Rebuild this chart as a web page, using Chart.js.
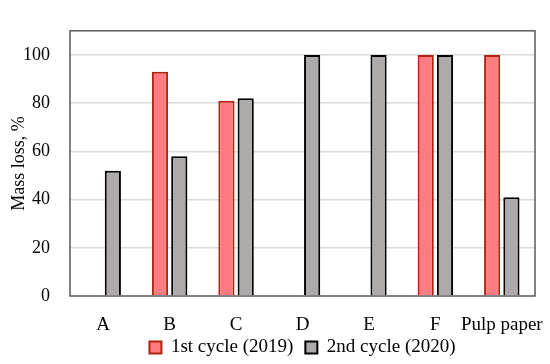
<!DOCTYPE html>
<html>
<head>
<meta charset="utf-8">
<script src="https://cdn.jsdelivr.net/npm/chart.js@4/dist/chart.umd.min.js"></script>
<style>
  html, body { margin: 0; padding: 0; background: #fff; }
  #wrap { width: 550px; height: 364px; }
</style>
</head>
<body>
<div id="wrap"><canvas id="massChart"></canvas></div>
<script>
const categories = ["A", "B", "C", "D", "E", "F", "Pulp paper"];
const cycle2019 = [0, 93, 81, 0, 0, 100, 100];
const cycle2020 = [52, 58, 82, 100, 100, 100, 41];

const FONT = "'Liberation Serif', 'DejaVu Serif', serif";

// frame around the plot area
const frame = {
  id: "frame",
  beforeDatasetsDraw(chart) {
    const { ctx, chartArea: a } = chart;
    ctx.save();
    ctx.strokeStyle = "#595959";
    ctx.lineWidth = 1.5;
    ctx.strokeRect(a.left, a.top, a.right - a.left, a.bottom - a.top);
    ctx.restore();
  }
};

new Chart(document.getElementById("massChart"), {
  type: "bar",
  data: {
    labels: categories,
    datasets: [{
      label: "1st cycle (2019)",
      data: cycle2019,
      backgroundColor: "#FF7C80",
      borderColor: "#B2220F",
      borderWidth: 2
    }, {
      label: "2nd cycle (2020)",
      data: cycle2020,
      backgroundColor: "#AEAAAA",
      borderColor: "#000000",
      borderWidth: 2
    }]
  },
  options: {
    responsive: true,
    maintainAspectRatio: false,
    animation: false,
    layout: { padding: { left: 0, right: 15, top: 7, bottom: 0 } },
    datasets: {
      bar: { categoryPercentage: 0.58, barPercentage: 0.84 }
    },
    scales: {
      x: {
        grid: { display: false, drawTicks: false },
        border: { display: false },
        // mirror only to avoid label clipping; negative padding puts labels back below the axis
        ticks: { mirror: true, color: "#000", font: { family: FONT, size: 19 }, padding: -40, maxRotation: 0, autoSkip: false },
        afterFit: s => { s.height = 30; s.paddingLeft = 0; s.paddingRight = 0; }
      },
      y: {
        min: 0,
        max: 110,
        afterBuildTicks: s => { s.ticks = s.ticks.filter(t => t.value <= 100); },
        afterFit: s => { s.width = 70; },
        ticks: { stepSize: 20, color: "#000", font: { family: FONT, size: 18 }, padding: 20 },
        grid: {
          color: c => (c.tick.value === 0 ? "rgba(0,0,0,0)" : "#D9D9D9"),
          lineWidth: 1.5,
          drawTicks: false
        },
        border: { display: false },
        title: { display: true, text: "Mass loss, %", color: "#000", font: { family: FONT, size: 18 }, padding: 8 }
      }
    },
    plugins: {
      legend: {
        position: "bottom",
        fullSize: false,
        maxHeight: 38,
        labels: { color: "#000", font: { family: FONT, size: 19 }, boxWidth: 12, boxHeight: 12, padding: 12 }
      },
      tooltip: { enabled: false }
    }
  },
  plugins: [frame]
});
</script>
</body>
</html>
